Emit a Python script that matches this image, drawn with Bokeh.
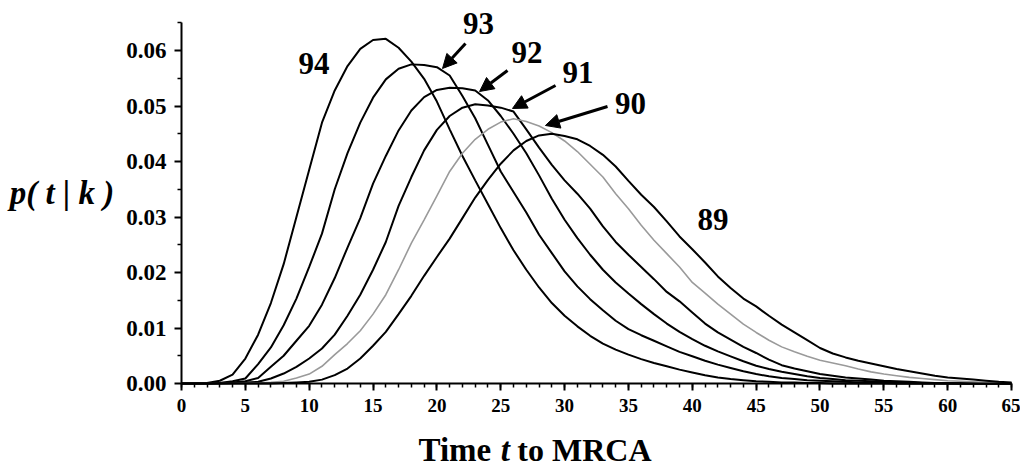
from bokeh.plotting import figure
from bokeh.models import (FixedTicker, Range1d, Label, Arrow, NormalHead,
                          PrintfTickFormatter)
from bokeh.embed import file_html
from bokeh.resources import INLINE

# Time t to MRCA (integer steps)
t = list(range(66))

# p(t|k) for k = 94 ... 89
p94 = [0, 0, 0.0001, 0.0005, 0.0016, 0.0045, 0.0088, 0.0145, 0.0215, 0.0300,
       0.0385, 0.0470, 0.0528, 0.0572, 0.0603, 0.0619, 0.0621, 0.0605, 0.0580, 0.0549,
       0.0508, 0.0458, 0.0410, 0.0366, 0.0323, 0.0280, 0.0240, 0.0205, 0.0173, 0.0145,
       0.0122, 0.0103, 0.0086, 0.0072, 0.0061, 0.0052, 0.0044, 0.0037, 0.0031, 0.0025,
       0.0020, 0.0015, 0.0011, 0.0008, 0.0006, 0.0004, 0.0003, 0.0002, 0.0002, 0.0001,
       0.0001, 0, 0, 0, 0, 0, 0, 0, 0, 0,
       0, 0, 0, 0, 0, 0]
p93 = [0, 0, 0, 0.0001, 0.0004, 0.0009, 0.0035, 0.0065, 0.0105, 0.0153,
       0.0210, 0.0270, 0.0350, 0.0415, 0.0470, 0.0515, 0.0548, 0.0567, 0.0575, 0.0574,
       0.0570, 0.0555, 0.0518, 0.0478, 0.0430, 0.0382, 0.0345, 0.0308, 0.0268, 0.0235,
       0.0202, 0.0175, 0.0152, 0.0132, 0.0113, 0.0098, 0.0087, 0.0077, 0.0067, 0.0057,
       0.0049, 0.0041, 0.0034, 0.0028, 0.0022, 0.0017, 0.0013, 0.0010, 0.0008, 0.0006,
       0.0005, 0.0004, 0.0003, 0.0002, 0.0001, 0.0001, 0, 0, 0, 0,
       0, 0, 0, 0, 0, 0]
p92 = [0, 0, 0, 0.0001, 0.0002, 0.0004, 0.0010, 0.0030, 0.0050, 0.0077,
       0.0104, 0.0142, 0.0190, 0.0245, 0.0298, 0.0360, 0.0410, 0.0456, 0.0492, 0.0516,
       0.0529, 0.0533, 0.0532, 0.0528, 0.0510, 0.0482, 0.0450, 0.0415, 0.0375, 0.0333,
       0.0295, 0.0262, 0.0232, 0.0205, 0.0182, 0.0162, 0.0143, 0.0125, 0.0108, 0.0093,
       0.0080, 0.0068, 0.0058, 0.0049, 0.0040, 0.0032, 0.0026, 0.0021, 0.0017, 0.0013,
       0.0010, 0.0008, 0.0006, 0.0005, 0.0004, 0.0003, 0.0002, 0.0002, 0.0001, 0.0001,
       0, 0, 0, 0, 0, 0]
p91 = [0, 0, 0, 0, 0.0001, 0.0002, 0.0003, 0.0009, 0.0018, 0.0030,
       0.0045, 0.0063, 0.0088, 0.0122, 0.0160, 0.0205, 0.0255, 0.0320, 0.0372, 0.0420,
       0.0457, 0.0482, 0.0497, 0.0503, 0.0501, 0.0497, 0.0490, 0.0458, 0.0425, 0.0394,
       0.0366, 0.0342, 0.0315, 0.0283, 0.0255, 0.0232, 0.0210, 0.0188, 0.0165, 0.0148,
       0.0128, 0.0108, 0.0092, 0.0079, 0.0066, 0.0055, 0.0043, 0.0033, 0.0027, 0.0022,
       0.0017, 0.0014, 0.0011, 0.0009, 0.0007, 0.0005, 0.0004, 0.0003, 0.0002, 0.0001,
       0.0001, 0, 0, 0, 0, 0]
p90 = [0, 0, 0, 0, 0, 0.0001, 0.0001, 0.0002, 0.0004, 0.0010,
       0.0017, 0.0031, 0.0052, 0.0072, 0.0095, 0.0125, 0.0160, 0.0205, 0.0253, 0.0295,
       0.0338, 0.0382, 0.0415, 0.0440, 0.0458, 0.0471, 0.0477, 0.0472, 0.0464, 0.0452,
       0.0437, 0.0418, 0.0395, 0.0372, 0.0342, 0.0315, 0.0285, 0.0258, 0.0234, 0.0210,
       0.0182, 0.0163, 0.0143, 0.0125, 0.0107, 0.0092, 0.0078, 0.0066, 0.0057, 0.0049,
       0.0042, 0.0037, 0.0032, 0.0026, 0.0021, 0.0017, 0.0014, 0.0011, 0.0009, 0.0007,
       0.0005, 0.0004, 0.0003, 0.0002, 0.0001, 0.0001]
p89 = [0, 0, 0, 0, 0, 0, 0, 0, 0.0001, 0.0002,
       0.0003, 0.0007, 0.0015, 0.0027, 0.0045, 0.0068, 0.0093, 0.0125, 0.0158, 0.0194,
       0.0228, 0.0261, 0.0298, 0.0335, 0.0367, 0.0396, 0.0420, 0.0437, 0.0447, 0.0450,
       0.0446, 0.0440, 0.0428, 0.0412, 0.0391, 0.0365, 0.0340, 0.0318, 0.0292, 0.0265,
       0.0242, 0.0218, 0.0193, 0.0172, 0.0153, 0.0139, 0.0122, 0.0106, 0.0092, 0.0078,
       0.0064, 0.0054, 0.0047, 0.0041, 0.0036, 0.0031, 0.0026, 0.0022, 0.0018, 0.0014,
       0.0011, 0.0009, 0.0007, 0.0005, 0.0003, 0.0002]

series_names = ["94", "93", "92", "91", "90", "89"]
x_ticks = [0, 5, 10, 15, 20, 25, 30, 35, 40, 45, 50, 55, 60, 65]
y_ticks = [0.0, 0.01, 0.02, 0.03, 0.04, 0.05, 0.06]
y_minor = [0.005, 0.015, 0.025, 0.035, 0.045, 0.055, 0.065]

SERIF = "Liberation Serif"

# The frame fills the whole canvas so that the titles drawn as labels are not
# clipped; the axes are placed at t = 0 and p = 0 with fixed_location.
p = figure(width=1020, height=469, output_backend="svg", toolbar_location=None,
           x_range=Range1d(-14.174, 65.701), y_range=Range1d(-0.015495, 0.069009),
           min_border_left=0, min_border_right=0, min_border_top=0,
           min_border_bottom=0)
p.outline_line_color = None
p.xgrid.visible = False
p.ygrid.visible = False
p.background_fill_color = "white"
p.border_fill_color = "white"

series = [p94, p93, p92, p91, p90, p89]
for name, ys in zip(series_names, series):
    if name == "90":
        p.line(t, ys, line_color="#9a9a9a", line_width=1.6)
    else:
        p.line(t, ys, line_color="black", line_width=2)

# axes
xa = p.xaxis[0]
xa.fixed_location = 0
xa.bounds = (0, 65)
xa.ticker = FixedTicker(ticks=x_ticks, minor_ticks=list(range(0, 66)))
xa.axis_line_width = 2
xa.major_tick_line_width = 2
xa.minor_tick_line_width = 1.5
xa.major_tick_out = 7
xa.major_tick_in = 0
xa.minor_tick_out = 4
xa.minor_tick_in = 0
xa.major_label_text_font = SERIF
xa.major_label_text_font_style = "bold"
xa.major_label_text_font_size = "19px"
xa.major_label_text_color = "black"
xa.major_label_standoff = 8

ya = p.yaxis[0]
ya.fixed_location = 0
ya.bounds = (0, 0.065)
ya.ticker = FixedTicker(ticks=y_ticks, minor_ticks=y_minor)
ya.formatter = PrintfTickFormatter(format="%.2f")
ya.axis_line_width = 2
ya.major_tick_line_width = 2
ya.minor_tick_line_width = 1.5
ya.major_tick_out = 7
ya.major_tick_in = 0
ya.minor_tick_out = 4
ya.minor_tick_in = 0
ya.major_label_text_font = SERIF
ya.major_label_text_font_style = "bold"
ya.major_label_text_font_size = "23px"
ya.major_label_text_color = "black"
ya.major_label_standoff = 8

# curve labels
label_pos = {"94": (10.38, 0.05757), "93": (23.26, 0.06495), "92": (27.06, 0.05955),
             "91": (31.05, 0.05595), "90": (35.16, 0.05054), "89": (41.62, 0.02955)}
for name in series_names:
    lx, ly = label_pos[name]
    p.add_layout(Label(x=lx, y=ly, text=name, text_font=SERIF, text_font_style="bold",
                       text_font_size="31px", text_align="center",
                       text_baseline="middle", text_color="black"))

# arrows
arrows = [((22.24, 0.06126), (20.44, 0.05676)),
          ((25.53, 0.05640), (23.34, 0.05261)),
          ((29.29, 0.05370), (25.92, 0.04955)),
          ((33.36, 0.04991), (28.50, 0.04649))]
for (xs, ys0), (xe, ye) in arrows:
    p.add_layout(Arrow(end=NormalHead(size=14, fill_color="black", line_color="black",
                                      line_width=1),
                       x_start=xs, y_start=ys0, x_end=xe, y_end=ye,
                       line_color="black", line_width=3))

# y axis title
p.add_layout(Label(x=-9.36, y=0.0343, text="p( t | k )", text_font=SERIF,
                   text_font_style="bold italic", text_font_size="33px",
                   text_align="center", text_baseline="middle", text_color="black"))

# x axis title: "Time t to MRCA" with italic t
base_y = -0.01205
p.add_layout(Label(x=18.56, y=base_y, text="Time", text_font=SERIF,
                   text_font_style="bold", text_font_size="33px",
                   text_align="left", text_baseline="alphabetic", text_color="black"))
p.add_layout(Label(x=25.0, y=base_y, text="t", text_font=SERIF,
                   text_font_style="bold italic", text_font_size="33px",
                   text_align="left", text_baseline="alphabetic", text_color="black"))
p.add_layout(Label(x=26.3, y=base_y, text="to MRCA", text_font=SERIF,
                   text_font_style="bold", text_font_size="32px",
                   text_align="left", text_baseline="alphabetic", text_color="black"))

open("out.html", "w").write(file_html(p, INLINE))
